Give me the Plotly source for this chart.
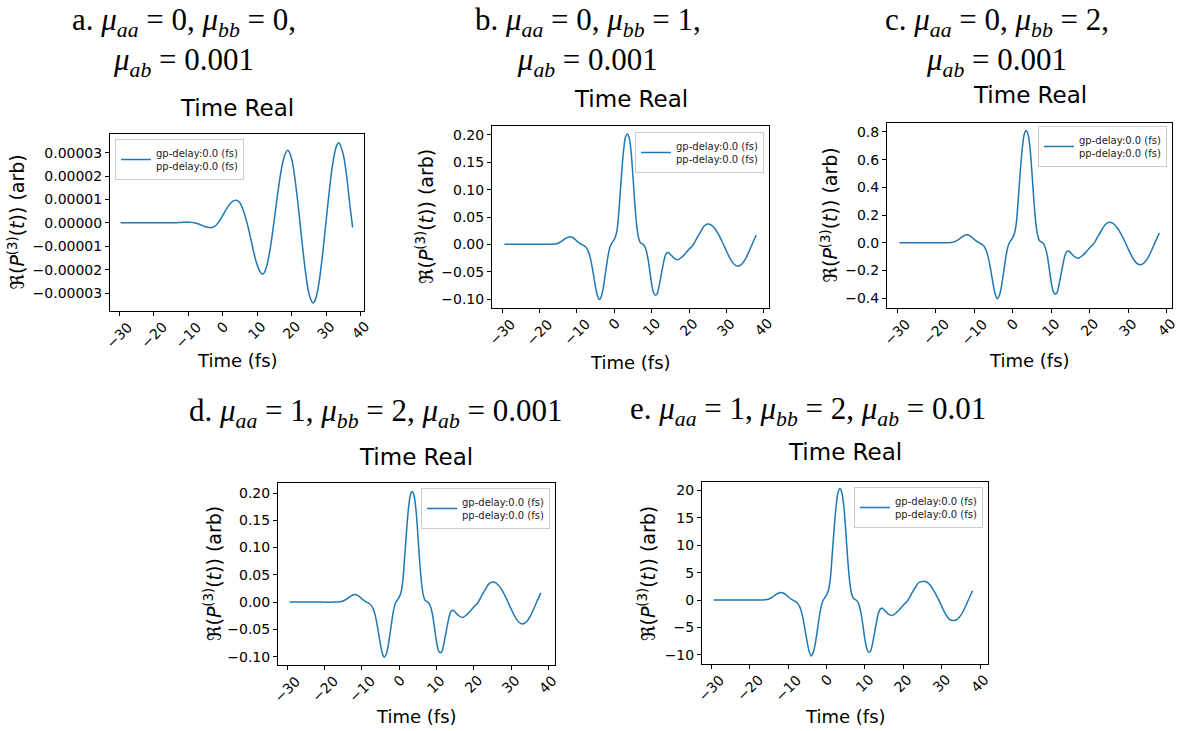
import plotly.graph_objects as go

# ---------------- data ----------------
time_a = [-29.6, -28, -26, -24, -22, -20, -18, -16, -14, -13,
          -12, -11, -10, -9, -8, -7, -6, -5, -4, -3.3,
          -2, -1, 0, 1, 2, 3, 4, 5, 6, 7,
          8, 9, 10, 11, 11.6, 12, 13, 14, 15, 16,
          17, 18, 18.9, 20, 21, 22, 23, 24, 25, 26.2,
          27, 28, 29, 30, 31, 32, 33, 33.7, 35, 36,
          37, 37.7]
re_a = [0, 0, 0, 0, 0, 0, 0, 0, 0, 1e-7,
        2e-7, 3e-7, 3e-7, 2e-7, -1e-7, -5e-7, -1.1e-6, -1.7e-6, -2.0e-6, -2.1e-6,
        -1.15e-6, 7e-7, 3.15e-6, 5.7e-6, 7.9e-6, 9.3e-6, 9.7e-6, 8.6e-6, 5.2e-6, 3e-7,
        -5.8e-6, -1.25e-5, -1.8e-5, -2.12e-5, -2.19e-5, -2.15e-5, -1.72e-5, -9.0e-6, 1.7e-6, 1.30e-5,
        2.27e-5, 2.90e-5, 3.10e-5, 2.74e-5, 1.85e-5, 6.0e-6, -7.9e-6, -2.07e-5, -3.01e-5, -3.43e-5,
        -3.24e-5, -2.50e-5, -1.33e-5, 7e-7, 1.46e-5, 2.60e-5, 3.28e-5, 3.43e-5, 2.92e-5, 1.96e-5,
        6.4e-6, -2.0e-6]

time_bcde = [-29.4, -28, -26, -24, -22, -20, -18, -16, -15, -14,
             -13, -12, -11, -10, -9, -8.5, -8, -7.5, -7, -6.5,
             -6, -5.5, -5, -4.5, -4, -3.5, -3, -2.5, -2, -1.5,
             -1, -0.5, 0, 0.5, 1, 1.5, 2, 2.5, 3, 3.5,
             4, 4.5, 5, 5.5, 6, 6.5, 7, 7.5, 8, 8.5,
             9, 9.5, 10, 10.5, 11, 11.5, 12, 12.5, 13, 13.5,
             14, 14.5, 15, 16, 17, 18, 19, 20, 21, 22,
             23, 24, 25, 26, 27, 28, 29, 30, 31, 32,
             33, 34, 35, 36, 37, 38]
re_b = [0, 0, 0, 0, 0, 0, 0, 0.0005, 0.002, 0.006,
        0.011, 0.014, 0.012, 0.006, 0.001, -0.001, -0.003, -0.006, -0.012, -0.022,
        -0.038, -0.058, -0.078, -0.094, -0.101, -0.096, -0.082, -0.060, -0.036, -0.015,
        -0.002, 0.004, 0.009, 0.018, 0.040, 0.085, 0.132, 0.172, 0.196, 0.202,
        0.195, 0.170, 0.125, 0.075, 0.035, 0.012, 0.003, 0.001, -0.002, -0.010,
        -0.025, -0.048, -0.072, -0.088, -0.093, -0.090, -0.076, -0.058, -0.040, -0.024,
        -0.016, -0.015, -0.018, -0.025, -0.028, -0.024, -0.017, -0.009, -0.002, 0.010,
        0.022, 0.033, 0.037, 0.035, 0.028, 0.017, 0.003, -0.012, -0.026, -0.036,
        -0.040, -0.037, -0.028, -0.014, 0.002, 0.017]
re_c = [0, 0, 0, 0, 0, 0, 0, 0.002, 0.008, 0.024,
        0.044, 0.057, 0.048, 0.024, 0.004, -0.004, -0.012, -0.024, -0.048, -0.088,
        -0.152, -0.232, -0.312, -0.376, -0.405, -0.384, -0.328, -0.240, -0.144, -0.060,
        -0.008, 0.016, 0.036, 0.072, 0.160, 0.340, 0.528, 0.688, 0.784, 0.810,
        0.780, 0.680, 0.500, 0.300, 0.140, 0.048, 0.012, 0.004, -0.008, -0.040,
        -0.100, -0.192, -0.288, -0.352, -0.372, -0.360, -0.304, -0.232, -0.160, -0.096,
        -0.064, -0.060, -0.072, -0.100, -0.112, -0.096, -0.068, -0.036, -0.008, 0.040,
        0.088, 0.132, 0.148, 0.140, 0.112, 0.068, 0.012, -0.048, -0.104, -0.144,
        -0.160, -0.148, -0.112, -0.056, 0.008, 0.070]
re_d = [0, 0, 0, 0, 0, 0, 0, 0.0005, 0.002, 0.006,
        0.011, 0.014, 0.012, 0.006, 0.001, -0.001, -0.003, -0.006, -0.012, -0.022,
        -0.038, -0.058, -0.078, -0.094, -0.101, -0.096, -0.082, -0.060, -0.036, -0.015,
        -0.002, 0.004, 0.009, 0.018, 0.040, 0.085, 0.132, 0.172, 0.196, 0.203,
        0.195, 0.170, 0.125, 0.075, 0.035, 0.012, 0.003, 0.001, -0.002, -0.010,
        -0.025, -0.048, -0.072, -0.088, -0.093, -0.090, -0.076, -0.058, -0.040, -0.024,
        -0.016, -0.015, -0.018, -0.025, -0.028, -0.024, -0.017, -0.009, -0.002, 0.010,
        0.022, 0.033, 0.037, 0.035, 0.028, 0.017, 0.003, -0.012, -0.026, -0.036,
        -0.040, -0.037, -0.028, -0.014, 0.002, 0.017]
re_e = [0, 0, 0, 0, 0, 0, 0, 0.05, 0.2, 0.6,
        1.1, 1.4, 1.2, 0.6, 0.1, -0.1, -0.3, -0.6, -1.2, -2.2,
        -3.8, -5.8, -7.8, -9.4, -10.2, -9.6, -8.2, -6.0, -3.6, -1.5,
        -0.2, 0.4, 0.9, 1.8, 4.0, 8.5, 13.2, 17.2, 19.6, 20.3,
        19.5, 17.0, 12.5, 7.5, 3.5, 1.2, 0.3, 0.1, -0.2, -1.0,
        -2.5, -4.8, -7.3, -8.9, -9.5, -9.2, -7.8, -5.9, -4.0, -2.4,
        -1.6, -1.5, -1.8, -2.5, -2.8, -2.4, -1.7, -0.9, -0.2, 1.0,
        2.2, 3.2, 3.4, 3.3, 2.7, 1.6, 0.3, -1.2, -2.6, -3.5,
        -3.7, -3.5, -2.7, -1.4, 0.2, 1.7]

x_tick_vals = [-30, -20, -10, 0, 10, 20, 30, 40]
x_tick_text = ["\u221230", "\u221220", "\u221210", "0", "10", "20", "30", "40"]

ytick_a_vals = [-3e-5, -2e-5, -1e-5, 0, 1e-5, 2e-5, 3e-5]
ytick_a_text = ["\u22120.00003", "\u22120.00002", "\u22120.00001", "0.00000",
                "0.00001", "0.00002", "0.00003"]
ytick_bd_vals = [-0.10, -0.05, 0.0, 0.05, 0.10, 0.15, 0.20]
ytick_bd_text = ["\u22120.10", "\u22120.05", "0.00", "0.05", "0.10", "0.15", "0.20"]
ytick_c_vals = [-0.4, -0.2, 0.0, 0.2, 0.4, 0.6, 0.8]
ytick_c_text = ["\u22120.4", "\u22120.2", "0.0", "0.2", "0.4", "0.6", "0.8"]
ytick_e_vals = [-10, -5, 0, 5, 10, 15, 20]
ytick_e_text = ["\u221210", "\u22125", "0", "5", "10", "15", "20"]

legend_label = "gp-delay:0.0 (fs)<br>pp-delay:0.0 (fs)"
panel_title = "Time Real"
x_label = "Time (fs)"
y_label = "\u211c(<i>P</i><sup>(3)</sup>(<i>t</i>)) (arb)"

MU = "<i>\u03bc</i>"
headers = [
    ("a. " + MU + "<sub><i>aa</i></sub> = 0, " + MU + "<sub><i>bb</i></sub> = 0,<br>"
     + MU + "<sub><i>ab</i></sub> = 0.001", 184, 42),
    ("b. " + MU + "<sub><i>aa</i></sub> = 0, " + MU + "<sub><i>bb</i></sub> = 1,<br>"
     + MU + "<sub><i>ab</i></sub> = 0.001", 588, 42),
    ("c. " + MU + "<sub><i>aa</i></sub> = 0, " + MU + "<sub><i>bb</i></sub> = 2,<br>"
     + MU + "<sub><i>ab</i></sub> = 0.001", 997, 42),
    ("d. " + MU + "<sub><i>aa</i></sub> = 1, " + MU + "<sub><i>bb</i></sub> = 2, "
     + MU + "<sub><i>ab</i></sub> = 0.001", 375, 413),
    ("e. " + MU + "<sub><i>aa</i></sub> = 1, " + MU + "<sub><i>bb</i></sub> = 2, "
     + MU + "<sub><i>ab</i></sub> = 0.01", 808, 411),
]

# ---------------- layout geometry (pixels) ----------------
W, H = 1181, 731
LINE = "#1f77b4"
SANS = "DejaVu Sans"

panels = [
    dict(t=time_a, y=re_a, box=(110, 364, 134, 311), xr=[-32.7, 41.0], yr=[-3.77e-5, 3.80e-5],
         yv=ytick_a_vals, ytx=ytick_a_text, leg=("left", 115, 139), title_y=108, xl_y=361, yl_x=16),
    dict(t=time_bcde, y=re_b, box=(492, 769, 126, 308), xr=[-32.7, 41.4], yr=[-0.1164, 0.2164],
         yv=ytick_bd_vals, ytx=ytick_bd_text, leg=("right", 764, 132), title_y=99, xl_y=362, yl_x=425),
    dict(t=time_bcde, y=re_c, box=(887, 1172, 123, 308), xr=[-32.6, 41.3], yr=[-0.472, 0.865],
         yv=ytick_c_vals, ytx=ytick_c_text, leg=("right", 1167, 126), title_y=95, xl_y=360, yl_x=830),
    dict(t=time_bcde, y=re_d, box=(278, 555, 483, 665), xr=[-32.5, 41.8], yr=[-0.1153, 0.2184],
         yv=ytick_bd_vals, ytx=ytick_bd_text, leg=("right", 550, 488), title_y=457, xl_y=716, yl_x=213),
    dict(t=time_bcde, y=re_e, box=(702, 988, 482, 664), xr=[-32.4, 42.0], yr=[-11.64, 21.5],
         yv=ytick_e_vals, ytx=ytick_e_text, leg=("right", 983, 487), title_y=452, xl_y=716, yl_x=647),
]

fig = go.Figure()
annotations = []
layout = dict(
    width=W, height=H, margin=dict(l=0, r=0, t=0, b=0),
    paper_bgcolor="white", plot_bgcolor="white",
    font=dict(family=SANS, color="black"),
    showlegend=True,
)

for i, p in enumerate(panels):
    n = "" if i == 0 else str(i + 1)
    x0, x1, y0, y1 = p["box"]
    legname = "legend" + n
    fig.add_trace(go.Scatter(
        x=p["t"], y=p["y"], mode="lines", name=legend_label,
        line=dict(color=LINE, width=1.5, shape="spline", smoothing=0.8),
        xaxis="x" + n, yaxis="y" + n, legend=legname, showlegend=True,
    ))
    axis_common = dict(showline=True, mirror=True, linecolor="black", linewidth=1,
                       ticks="outside", ticklen=4, tickwidth=1, tickcolor="black",
                       showgrid=False, zeroline=False,
                       tickfont=dict(family=SANS, size=14, color="black"))
    layout["xaxis" + n] = dict(axis_common, domain=[x0 / W, x1 / W], range=p["xr"],
                               anchor="y" + n, tickmode="array", tickvals=x_tick_vals,
                               ticktext=x_tick_text, showticklabels=False)
    layout["yaxis" + n] = dict(axis_common, domain=[1 - y1 / H, 1 - y0 / H], range=p["yr"],
                               anchor="x" + n, tickmode="array", tickvals=p["yv"],
                               ticktext=p["ytx"])
    # rotated x tick labels, centred under each tick (matplotlib style)
    for tv, tt in zip(x_tick_vals, x_tick_text):
        annotations.append(dict(text=tt, x=tv, xref="x" + n, y=1 - (y1 + 6) / H, yref="paper",
                                showarrow=False, textangle=-45, xanchor="center", yanchor="top",
                                borderpad=0,
                                font=dict(family=SANS, size=14, color="black")))
    side, lx, ly = p["leg"]
    layout[legname] = dict(x=lx / W, y=1 - ly / H, xanchor=side, yanchor="top",
                           xref="paper", yref="paper",
                           bgcolor="rgba(255,255,255,0.8)", bordercolor="#cccccc", borderwidth=1,
                           font=dict(family=SANS, size=10, color="#222222"),
                           itemwidth=30, tracegroupgap=0)
    cx = (x0 + x1) / 2 / W
    annotations.append(dict(text=panel_title, x=cx, y=1 - p["title_y"] / H, xref="paper", yref="paper",
                            showarrow=False, xanchor="center", yanchor="middle",
                            font=dict(family=SANS, size=23, color="black")))
    annotations.append(dict(text=x_label, x=cx, y=1 - p["xl_y"] / H, xref="paper", yref="paper",
                            showarrow=False, xanchor="center", yanchor="middle",
                            font=dict(family=SANS, size=18, color="black")))
    annotations.append(dict(text=y_label, x=p["yl_x"] / W, y=1 - (y0 + y1) / 2 / H,
                            xref="paper", yref="paper", showarrow=False, textangle=-90,
                            xanchor="center", yanchor="middle",
                            font=dict(family=SANS, size=19, color="black")))

for txt, hx, hy in headers:
    annotations.append(dict(text=txt, x=hx / W, y=1 - hy / H, xref="paper", yref="paper",
                            showarrow=False, xanchor="center", yanchor="middle",
                            font=dict(family="Liberation Serif", size=31, color="black")))

layout["annotations"] = annotations
fig.update_layout(**layout)
fig.write_html("out.html")
